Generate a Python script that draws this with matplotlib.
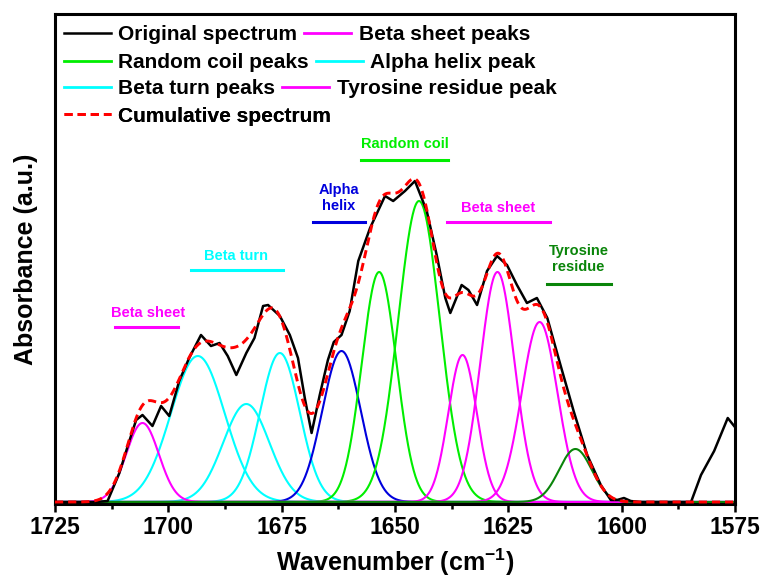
import numpy as np
import matplotlib
matplotlib.use("Agg")
import matplotlib.pyplot as plt
from matplotlib.lines import Line2D

plt.rcParams["font.family"] = ["Liberation Sans", "DejaVu Sans"]
plt.rcParams["font.weight"] = "bold"
plt.rcParams["axes.labelweight"] = "bold"
plt.rcParams["mathtext.fontset"] = "custom"
plt.rcParams["mathtext.rm"] = "Liberation Sans:bold"
plt.rcParams["mathtext.bf"] = "Liberation Sans:bold"
plt.rcParams["mathtext.default"] = "bf"

# measured spectrum (wavenumber, absorbance a.u.)
orig_x = [1725, 1716, 1713.4, 1710.8, 1708.6, 1707.1, 1705.7, 1703.5, 1701.6, 1699.8,
          1697.6, 1695.4, 1692.8, 1690.6, 1688.7, 1686.9, 1685.0, 1682.8, 1681.0, 1679.1,
          1678.0, 1675.4, 1673.2, 1671.4, 1669.9, 1668.4, 1666.6, 1664.8, 1663.5, 1661.8,
          1660.0, 1658.1, 1655.5, 1652.2, 1650.4, 1647.8, 1645.6, 1643.0, 1640.8, 1638.9,
          1637.8, 1635.3, 1633.8, 1631.9, 1629.7, 1627.5, 1625.3, 1623.1, 1620.9, 1618.7,
          1616.4, 1613.5, 1610.6, 1607.6, 1604.6, 1602.4, 1601.0, 1599.5, 1598.0, 1596.0,
          1584.7, 1582.5, 1579.6, 1576.6, 1575.2]
orig_y = [0, 0, 0.01, 0.29, 0.61, 0.82, 0.87, 0.76, 0.96, 0.86,
          1.21, 1.44, 1.67, 1.56, 1.59, 1.46, 1.27, 1.49, 1.64, 1.96,
          1.97, 1.86, 1.67, 1.44, 1.04, 0.69, 1.07, 1.42, 1.60, 1.67,
          1.91, 2.41, 2.74, 3.06, 3.01, 3.11, 3.21, 2.91, 2.47, 2.04,
          1.89, 2.17, 2.12, 1.97, 2.31, 2.46, 2.37, 2.17, 1.99, 2.04,
          1.84, 1.37, 0.91, 0.47, 0.17, 0.02, 0.02, 0.04, 0.01, 0,
          0, 0.27, 0.51, 0.84, 0.76]

# fitted gaussian components: centre, height, fwhm
beta_sheet_c = [1705.7, 1635.1, 1627.4, 1618.1]
beta_sheet_h = [0.79, 1.47, 2.30, 1.80]
beta_sheet_w = [8.5, 7.4, 8.9, 9.3]

beta_turn_c = [1693.5, 1682.8, 1675.4]
beta_turn_h = [1.46, 0.98, 1.49]
beta_turn_w = [14.0, 12.0, 10.3]

alpha_c = [1661.8]
alpha_h = [1.51]
alpha_w = [10.0]

coil_c = [1653.5, 1644.7]
coil_h = [2.30, 3.01]
coil_w = [9.0, 10.8]

tyr_c = [1610.2]
tyr_h = [0.53]
tyr_w = [8.5]

MAGENTA = "#ff00ff"
CYAN = "#00ffff"
GREEN = "#00ee00"
BLUE = "#0000dd"
DKGREEN = "#0a850a"


def gauss(x, c, h, w):
    s = w / 2.3548
    return h * np.exp(-0.5 * ((x - c) / s) ** 2)


x = np.linspace(1725, 1575, 1501)

fig = plt.figure(figsize=(7.63, 5.81), dpi=100)
ax = fig.add_axes([55 / 763, 1 - 504 / 581, 680 / 763, 490 / 581])

ax.plot(orig_x, orig_y, color="black", lw=1.8, zorder=3)

total = np.zeros_like(x)
groups = [
    (beta_turn_c, beta_turn_h, beta_turn_w, CYAN),
    (alpha_c, alpha_h, alpha_w, BLUE),
    (coil_c, coil_h, coil_w, GREEN),
    (beta_sheet_c, beta_sheet_h, beta_sheet_w, MAGENTA),
    (tyr_c, tyr_h, tyr_w, DKGREEN),
]
for cs, hs, ws, col in groups:
    for c, h, w in zip(cs, hs, ws):
        g = gauss(x, c, h, w)
        total += g
        ax.plot(x, g, color=col, lw=1.5, zorder=2)

ax.plot(x, total, color="red", lw=2.1, ls=(0, (2.8, 1.7)), zorder=4)

# region labels
labels = [
    ("Beta sheet", 1704.4, 1.89, 1711.8, 1697.9, 1.75, MAGENTA),
    ("Beta turn", 1685.1, 2.46, 1695.0, 1674.7, 2.32, CYAN),
    ("Alpha\nhelix", 1662.4, 3.04, 1668.1, 1656.6, 2.80, BLUE),
    ("Random coil", 1647.8, 3.58, 1657.4, 1638.2, 3.42, GREEN),
    ("Beta sheet", 1627.2, 2.94, 1638.6, 1615.9, 2.80, MAGENTA),
    ("Tyrosine\nresidue", 1609.5, 2.43, 1616.4, 1602.4, 2.18, DKGREEN),
]
for txt, tx, ty, x0, x1, ly, col in labels:
    ax.text(tx, ty, txt, color=col, fontsize=10.5, ha="center", va="center",
            linespacing=1.25)
    ax.plot([x0, x1], [ly, ly], color=col, lw=2.2)

ax.set_xlim(1725, 1575)
ax.set_ylim(-0.02, 4.88)
ax.set_xticks(np.arange(1725, 1574, -25))
ax.set_xticks(np.arange(1725, 1574, -12.5), minor=True)
ax.set_yticks([])
ax.tick_params(axis="x", which="major", direction="out", length=6, width=1.8,
               labelsize=16.5, pad=3)
ax.tick_params(axis="x", which="minor", direction="out", length=3.5, width=1.8)
for sp in ax.spines.values():
    sp.set_linewidth(2.2)

ax.set_xlabel("Wavenumber (cm$^{-1}$)", fontsize=18, labelpad=5)
ax.set_ylabel("Absorbance (a.u.)", fontsize=18, labelpad=12)

# legend, one row per legend to mimic the flowing layout
rows = [
    [("Original spectrum", dict(color="black", lw=1.8)),
     ("Beta sheet peaks", dict(color=MAGENTA, lw=2))],
    [("Random coil peaks", dict(color=GREEN, lw=2)),
     ("Alpha helix peak", dict(color=CYAN, lw=2))],
    [("Beta turn peaks", dict(color=CYAN, lw=2)),
     ("Tyrosine residue peak", dict(color=MAGENTA, lw=2))],
    [("Cumulative spectrum", dict(color="red", lw=2.1, ls=(0, (2.8, 1.7))))],
]
row_y = [35, 63, 89, 116]
for items, yy in zip(rows, row_y):
    handles = [Line2D([], [], **kw) for _, kw in items]
    names = [n for n, _ in items]
    leg = ax.legend(handles, names, loc="center left",
                    bbox_to_anchor=(64 / 763, 1 - yy / 581),
                    bbox_transform=fig.transFigure, ncol=len(items),
                    frameon=False, fontsize=15, borderpad=0, borderaxespad=0,
                    handlelength=2.25, handletextpad=0.35, columnspacing=0.35)
    ax.add_artist(leg)

fig.savefig("out.png", dpi=100)
